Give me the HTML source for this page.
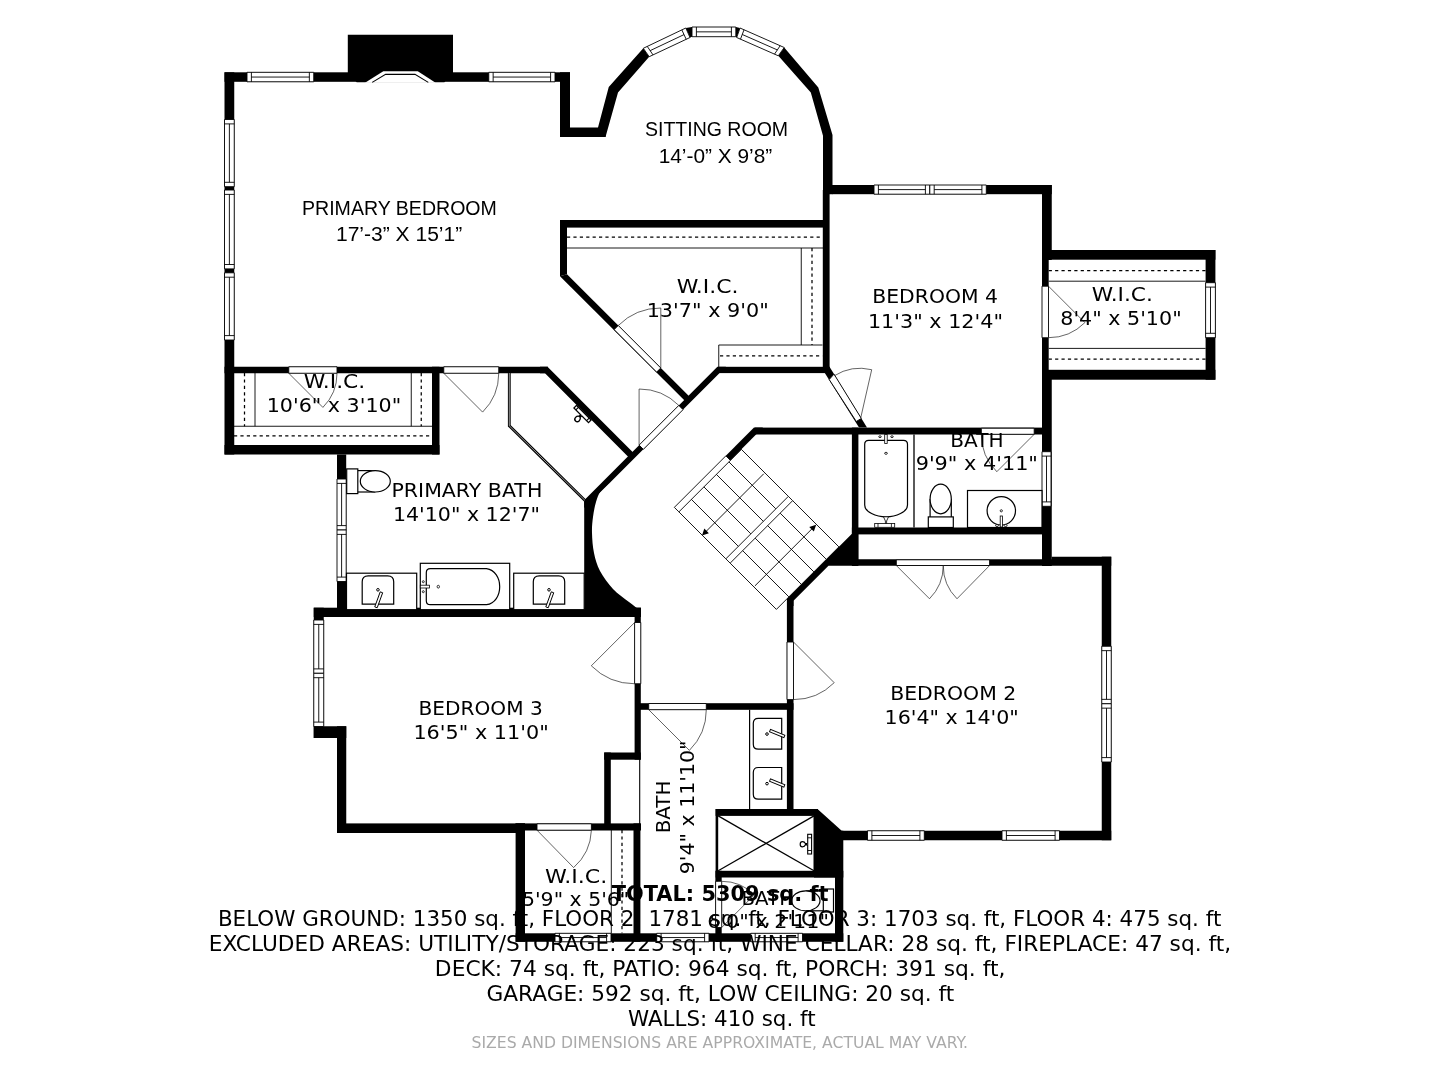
<!DOCTYPE html>
<html lang="en"><head><meta charset="utf-8"><title>Floor Plan</title>
<style>html,body{margin:0;padding:0;background:#fff}body{width:1440px;height:1080px;overflow:hidden}svg{display:block}</style>
</head><body>
<svg width="1440" height="1080" viewBox="0 0 1440 1080">
<rect width="1440" height="1080" fill="#fff"/>
<g id="plan">
<rect x="224.5" y="72.3" width="345.5" height="9.5" fill="#000"/>
<polygon points="347.8,34.8 453,34.8 453,72.3 444.4,82.2 356.7,82.2 347.8,72.3" fill="#000"/>
<polygon points="365,82.8 383.3,71.3 417.8,71.3 435.6,82.8" fill="#fff"/>
<polyline points="372.2,82.4 385.6,74.4 415,74.4 428.3,82.4" fill="none" stroke="#000" stroke-width="1.1"/>
<rect x="224.5" y="72.3" width="9.75" height="382.2" fill="#000"/>
<rect x="560" y="72.3" width="10" height="64.7" fill="#000"/>
<rect x="560" y="127.5" width="45.5" height="9.5" fill="#000"/>
<polygon points="598,127.5 608.75,87 643.3,48.3 649.2,56.7 618,92.5 605.5,137 598,137" fill="#000"/>
<polygon points="685.8,28 692,27 692,36.7 690,37.5" fill="#000"/>
<polygon points="735.8,27 740,28 736.7,37.5 735.8,36.7" fill="#000"/>
<polygon points="784.2,47.5 818.3,87.5 832.5,135 832.5,194.2 823,194.2 823,135.8 810.8,92.5 778.3,55.8" fill="#000"/>
<rect x="822.8" y="190" width="6.8" height="183" fill="#000"/>
<rect x="832" y="185" width="219.75" height="9.2" fill="#000"/>
<rect x="1042" y="185" width="9.75" height="75" fill="#000"/>
<rect x="1042" y="250" width="6.7" height="40" fill="#000"/>
<rect x="1042" y="337.7" width="6.7" height="42.3" fill="#000"/>
<rect x="1042" y="370" width="9.75" height="196" fill="#000"/>
<rect x="1042" y="250" width="173.4" height="9.7" fill="#000"/>
<rect x="1205.6" y="250" width="9.8" height="129.7" fill="#000"/>
<rect x="1042" y="369.8" width="173.4" height="9.9" fill="#000"/>
<rect x="560" y="220" width="263" height="7.6" fill="#000"/>
<polygon points="560,220 567,220 567,274.2 560,276.3" fill="#000"/>
<rect x="718.5" y="366.8" width="111" height="6.3" fill="#000"/>
<polygon points="560,276.3 567,274.2 690.4,397.6 686.1,401.9" fill="#000"/>
<polygon points="584.2,500.2 717.4,366.8 726,366.8 719.6,373.1 611.35,481.35 584.2,508" fill="#000"/>
<polygon points="547.5,366.7 633.35,452.65 628.65,457.35 545,373.2 540,373.2 540,366.7" fill="#000"/>
<path d="M584.2 500.2 L611.5 481.2 C608.8 483.75 603.38 487.53 600.8 491 C598.22 494.47 597.3 497.67 596 502 C594.7 506.33 593.67 511.83 593 517 C592.33 522.17 591.83 527 592 533 C592.17 539 592.67 546.67 594 553 C595.33 559.33 596.83 565 600 571 C603.17 577 608.17 583.83 613 589 C617.83 594.17 624.37 598.37 629 602 C633.63 605.63 637.63 608.47 640.8 610.8 L640.8 617 L584.2 617 Z" fill="#000" stroke="#000" stroke-width="0"/>
<rect x="224.5" y="366.75" width="323.5" height="6.5" fill="#000"/>
<rect x="432" y="366.75" width="7.5" height="87.75" fill="#000"/>
<rect x="224.5" y="445" width="215" height="9.5" fill="#000"/>
<rect x="337" y="454.5" width="9.2" height="162.5" fill="#000"/>
<rect x="313.75" y="607.7" width="327.25" height="9.3" fill="#000"/>
<rect x="313.75" y="607.7" width="10" height="130.3" fill="#000"/>
<rect x="313.75" y="726.25" width="32.5" height="11.75" fill="#000"/>
<rect x="337" y="726.25" width="9.25" height="106.75" fill="#000"/>
<rect x="337" y="823.4" width="188" height="9.6" fill="#000"/>
<rect x="515.5" y="823.4" width="125.5" height="7.1" fill="#000"/>
<rect x="634.6" y="607.7" width="6.2" height="152" fill="#000"/>
<rect x="604.2" y="752.5" width="36.6" height="7.2" fill="#000"/>
<rect x="604.2" y="752.5" width="6.6" height="77.5" fill="#000"/>
<line x1="639.7" y1="759" x2="639.7" y2="824" stroke="#000" stroke-width="1.1"/>
<rect x="515.6" y="823.4" width="9.4" height="118.4" fill="#000"/>
<rect x="633.5" y="823.4" width="6.9" height="118.4" fill="#000"/>
<rect x="515.6" y="933.3" width="327.7" height="8.5" fill="#000"/>
<rect x="640" y="703.2" width="153.5" height="6.6" fill="#000"/>
<rect x="786.9" y="600" width="6.6" height="209.5" fill="#000"/>
<polygon points="851.7,534 787,598.7 787,606 793.5,606 793.5,600.8 828.5,565.8 1111.25,565.8 1111.25,556.7 1051.7,556.7 1051.7,559.2 858.3,559.2 858.3,534" fill="#000"/>
<rect x="1101.75" y="556.7" width="9.5" height="283.55" fill="#000"/>
<rect x="835" y="830.75" width="276.25" height="9.5" fill="#000"/>
<rect x="755" y="427.6" width="296" height="6.9" fill="#000"/>
<polygon points="725.8,455.8 754,427.6 763,427.6 730,460.8" fill="#000"/>
<rect x="851.9" y="427.6" width="6.5" height="138.4" fill="#000"/>
<rect x="851.9" y="527.5" width="190.6" height="6.9" fill="#000"/>
<polygon points="829.5,366.8 867,427.6 859,427.6 824.8,373.1 824.8,366.8" fill="#000"/>
<rect x="715.6" y="809" width="102.4" height="6.9" fill="#000"/>
<rect x="715.6" y="809" width="2.6" height="132.8" fill="#000"/>
<rect x="715.6" y="870.8" width="127.7" height="6.7" fill="#000"/>
<rect x="715.6" y="870.8" width="6.1" height="10.5" fill="#000"/>
<rect x="715.6" y="927.5" width="6.1" height="14.3" fill="#000"/>
<polygon points="814,809 817.5,809 841.7,830.8 843.3,830.8 843.3,941.8 835,941.8 835,877.5 814,877.5" fill="#000"/>
<polygon points="247,72.3 247,81.8 313.75,81.8 313.75,72.3" fill="#fff" stroke="#000" stroke-width="0.9"/>
<line x1="251.4" y1="72.3" x2="251.4" y2="81.8" stroke="#000" stroke-width="0.9"/>
<line x1="309.35" y1="72.3" x2="309.35" y2="81.8" stroke="#000" stroke-width="0.9"/>
<line x1="251.4" y1="77.05" x2="309.35" y2="77.05" stroke="#000" stroke-width="0.9"/>
<polygon points="488.75,72.3 488.75,81.8 555,81.8 555,72.3" fill="#fff" stroke="#000" stroke-width="0.9"/>
<line x1="493.15" y1="72.3" x2="493.15" y2="81.8" stroke="#000" stroke-width="0.9"/>
<line x1="550.6" y1="72.3" x2="550.6" y2="81.8" stroke="#000" stroke-width="0.9"/>
<line x1="493.15" y1="77.05" x2="550.6" y2="77.05" stroke="#000" stroke-width="0.9"/>
<polygon points="224.5,119.5 234.25,119.5 234.25,186.7 224.5,186.7" fill="#fff" stroke="#000" stroke-width="0.9"/>
<line x1="224.5" y1="123.9" x2="234.25" y2="123.9" stroke="#000" stroke-width="0.9"/>
<line x1="224.5" y1="182.3" x2="234.25" y2="182.3" stroke="#000" stroke-width="0.9"/>
<line x1="229.38" y1="123.9" x2="229.38" y2="182.3" stroke="#000" stroke-width="0.9"/>
<polygon points="224.5,190 234.25,190 234.25,268.9 224.5,268.9" fill="#fff" stroke="#000" stroke-width="0.9"/>
<line x1="224.5" y1="194.4" x2="234.25" y2="194.4" stroke="#000" stroke-width="0.9"/>
<line x1="224.5" y1="264.5" x2="234.25" y2="264.5" stroke="#000" stroke-width="0.9"/>
<line x1="229.38" y1="194.4" x2="229.38" y2="264.5" stroke="#000" stroke-width="0.9"/>
<polygon points="224.5,272.8 234.25,272.8 234.25,340 224.5,340" fill="#fff" stroke="#000" stroke-width="0.9"/>
<line x1="224.5" y1="277.2" x2="234.25" y2="277.2" stroke="#000" stroke-width="0.9"/>
<line x1="224.5" y1="335.6" x2="234.25" y2="335.6" stroke="#000" stroke-width="0.9"/>
<line x1="229.38" y1="277.2" x2="229.38" y2="335.6" stroke="#000" stroke-width="0.9"/>
<polygon points="643.3,48.3 649.2,56.7 690,37.5 685.8,28" fill="#fff" stroke="#000" stroke-width="0.9"/>
<line x1="647.27" y1="46.4" x2="653.01" y2="54.91" stroke="#000" stroke-width="0.9"/>
<line x1="681.83" y1="29.9" x2="686.19" y2="39.29" stroke="#000" stroke-width="0.9"/>
<line x1="650.14" y1="50.65" x2="684.01" y2="34.6" stroke="#000" stroke-width="0.9"/>
<polygon points="692,27 692,36.7 735.8,36.7 735.8,27" fill="#fff" stroke="#000" stroke-width="0.9"/>
<line x1="696.4" y1="27" x2="696.4" y2="36.7" stroke="#000" stroke-width="0.9"/>
<line x1="731.4" y1="27" x2="731.4" y2="36.7" stroke="#000" stroke-width="0.9"/>
<line x1="696.4" y1="31.85" x2="731.4" y2="31.85" stroke="#000" stroke-width="0.9"/>
<polygon points="740,28 736.7,37.5 778.3,55.8 784.2,47.5" fill="#fff" stroke="#000" stroke-width="0.9"/>
<line x1="744.03" y1="29.78" x2="740.49" y2="39.17" stroke="#000" stroke-width="0.9"/>
<line x1="780.17" y1="45.72" x2="774.51" y2="54.13" stroke="#000" stroke-width="0.9"/>
<line x1="742.26" y1="34.47" x2="777.34" y2="49.93" stroke="#000" stroke-width="0.9"/>
<polygon points="874,185 874,194.2 929.8,194.2 929.8,185" fill="#fff" stroke="#000" stroke-width="0.9"/>
<line x1="878.4" y1="185" x2="878.4" y2="194.2" stroke="#000" stroke-width="0.9"/>
<line x1="925.4" y1="185" x2="925.4" y2="194.2" stroke="#000" stroke-width="0.9"/>
<line x1="878.4" y1="189.6" x2="925.4" y2="189.6" stroke="#000" stroke-width="0.9"/>
<polygon points="929.8,185 929.8,194.2 986.3,194.2 986.3,185" fill="#fff" stroke="#000" stroke-width="0.9"/>
<line x1="934.2" y1="185" x2="934.2" y2="194.2" stroke="#000" stroke-width="0.9"/>
<line x1="981.9" y1="185" x2="981.9" y2="194.2" stroke="#000" stroke-width="0.9"/>
<line x1="934.2" y1="189.6" x2="981.9" y2="189.6" stroke="#000" stroke-width="0.9"/>
<polygon points="1205.6,282.7 1215.4,282.7 1215.4,337.7 1205.6,337.7" fill="#fff" stroke="#000" stroke-width="0.9"/>
<line x1="1205.6" y1="287.1" x2="1215.4" y2="287.1" stroke="#000" stroke-width="0.9"/>
<line x1="1205.6" y1="333.3" x2="1215.4" y2="333.3" stroke="#000" stroke-width="0.9"/>
<line x1="1210.5" y1="287.1" x2="1210.5" y2="333.3" stroke="#000" stroke-width="0.9"/>
<polygon points="1042,451.7 1051,451.7 1051,506.3 1042,506.3" fill="#fff" stroke="#000" stroke-width="0.9"/>
<line x1="1042" y1="456.1" x2="1051" y2="456.1" stroke="#000" stroke-width="0.9"/>
<line x1="1042" y1="501.9" x2="1051" y2="501.9" stroke="#000" stroke-width="0.9"/>
<line x1="1046.5" y1="456.1" x2="1046.5" y2="501.9" stroke="#000" stroke-width="0.9"/>
<polygon points="337,479 346.2,479 346.2,530 337,530" fill="#fff" stroke="#000" stroke-width="0.9"/>
<line x1="337" y1="483.4" x2="346.2" y2="483.4" stroke="#000" stroke-width="0.9"/>
<line x1="337" y1="525.6" x2="346.2" y2="525.6" stroke="#000" stroke-width="0.9"/>
<line x1="341.6" y1="483.4" x2="341.6" y2="525.6" stroke="#000" stroke-width="0.9"/>
<polygon points="337,530 346.2,530 346.2,581.5 337,581.5" fill="#fff" stroke="#000" stroke-width="0.9"/>
<line x1="337" y1="534.4" x2="346.2" y2="534.4" stroke="#000" stroke-width="0.9"/>
<line x1="337" y1="577.1" x2="346.2" y2="577.1" stroke="#000" stroke-width="0.9"/>
<line x1="341.6" y1="534.4" x2="341.6" y2="577.1" stroke="#000" stroke-width="0.9"/>
<polygon points="313.75,620 323.75,620 323.75,673.3 313.75,673.3" fill="#fff" stroke="#000" stroke-width="0.9"/>
<line x1="313.75" y1="624.4" x2="323.75" y2="624.4" stroke="#000" stroke-width="0.9"/>
<line x1="313.75" y1="668.9" x2="323.75" y2="668.9" stroke="#000" stroke-width="0.9"/>
<line x1="318.75" y1="624.4" x2="318.75" y2="668.9" stroke="#000" stroke-width="0.9"/>
<polygon points="313.75,673.3 323.75,673.3 323.75,726.5 313.75,726.5" fill="#fff" stroke="#000" stroke-width="0.9"/>
<line x1="313.75" y1="677.7" x2="323.75" y2="677.7" stroke="#000" stroke-width="0.9"/>
<line x1="313.75" y1="722.1" x2="323.75" y2="722.1" stroke="#000" stroke-width="0.9"/>
<line x1="318.75" y1="677.7" x2="318.75" y2="722.1" stroke="#000" stroke-width="0.9"/>
<polygon points="1101.75,646.25 1111.25,646.25 1111.25,703.75 1101.75,703.75" fill="#fff" stroke="#000" stroke-width="0.9"/>
<line x1="1101.75" y1="650.65" x2="1111.25" y2="650.65" stroke="#000" stroke-width="0.9"/>
<line x1="1101.75" y1="699.35" x2="1111.25" y2="699.35" stroke="#000" stroke-width="0.9"/>
<line x1="1106.5" y1="650.65" x2="1106.5" y2="699.35" stroke="#000" stroke-width="0.9"/>
<polygon points="1101.75,703.75 1111.25,703.75 1111.25,762 1101.75,762" fill="#fff" stroke="#000" stroke-width="0.9"/>
<line x1="1101.75" y1="708.15" x2="1111.25" y2="708.15" stroke="#000" stroke-width="0.9"/>
<line x1="1101.75" y1="757.6" x2="1111.25" y2="757.6" stroke="#000" stroke-width="0.9"/>
<line x1="1106.5" y1="708.15" x2="1106.5" y2="757.6" stroke="#000" stroke-width="0.9"/>
<polygon points="867.5,830.75 867.5,840.25 924.3,840.25 924.3,830.75" fill="#fff" stroke="#000" stroke-width="0.9"/>
<line x1="871.9" y1="830.75" x2="871.9" y2="840.25" stroke="#000" stroke-width="0.9"/>
<line x1="919.9" y1="830.75" x2="919.9" y2="840.25" stroke="#000" stroke-width="0.9"/>
<line x1="871.9" y1="835.5" x2="919.9" y2="835.5" stroke="#000" stroke-width="0.9"/>
<polygon points="1002,830.75 1002,840.25 1059.5,840.25 1059.5,830.75" fill="#fff" stroke="#000" stroke-width="0.9"/>
<line x1="1006.4" y1="830.75" x2="1006.4" y2="840.25" stroke="#000" stroke-width="0.9"/>
<line x1="1055.1" y1="830.75" x2="1055.1" y2="840.25" stroke="#000" stroke-width="0.9"/>
<line x1="1006.4" y1="835.5" x2="1055.1" y2="835.5" stroke="#000" stroke-width="0.9"/>
<polygon points="555,933.3 555,941.8 611,941.8 611,933.3" fill="#fff" stroke="#000" stroke-width="0.9"/>
<line x1="559.4" y1="933.3" x2="559.4" y2="941.8" stroke="#000" stroke-width="0.9"/>
<line x1="606.6" y1="933.3" x2="606.6" y2="941.8" stroke="#000" stroke-width="0.9"/>
<line x1="559.4" y1="937.55" x2="606.6" y2="937.55" stroke="#000" stroke-width="0.9"/>
<polygon points="656.7,933.3 656.7,941.8 709,941.8 709,933.3" fill="#fff" stroke="#000" stroke-width="0.9"/>
<line x1="661.1" y1="933.3" x2="661.1" y2="941.8" stroke="#000" stroke-width="0.9"/>
<line x1="704.6" y1="933.3" x2="704.6" y2="941.8" stroke="#000" stroke-width="0.9"/>
<line x1="661.1" y1="937.55" x2="704.6" y2="937.55" stroke="#000" stroke-width="0.9"/>
<polygon points="750.8,933.3 750.8,941.8 802.5,941.8 802.5,933.3" fill="#fff" stroke="#000" stroke-width="0.9"/>
<line x1="755.2" y1="933.3" x2="755.2" y2="941.8" stroke="#000" stroke-width="0.9"/>
<line x1="798.1" y1="933.3" x2="798.1" y2="941.8" stroke="#000" stroke-width="0.9"/>
<line x1="755.2" y1="937.55" x2="798.1" y2="937.55" stroke="#000" stroke-width="0.9"/>
<polygon points="288.75,366.75 337,366.75 337,373.25 288.75,373.25" fill="#fff" stroke="#000" stroke-width="0.9"/>
<path d="M288.75 373.25L322.9 407.4A48.3 48.3 0 0 0 337 373.25" fill="none" stroke="#222" stroke-width="0.7"/>
<polygon points="443.75,366.75 498.75,366.75 498.75,373.25 443.75,373.25" fill="#fff" stroke="#000" stroke-width="0.9"/>
<path d="M443.75 373.25L482.6 412.1A54.94 54.94 0 0 0 498.75 373.25" fill="none" stroke="#222" stroke-width="0.7"/>
<polygon points="618.27,325.48 660.77,367.98 656.62,372.12 614.12,329.62" fill="#fff" stroke="#000" stroke-width="0.9"/>
<path d="M660.8 368L660.8 308A60 60 0 0 0 618.3 325.5" fill="none" stroke="#222" stroke-width="0.7"/>
<polygon points="639.1,445.1 678.8,405.4 683.05,409.65 643.35,449.35" fill="#fff" stroke="#000" stroke-width="0.9"/>
<path d="M639.1 445.1L639.1 389A56.1 56.1 0 0 1 678.8 405.4" fill="none" stroke="#222" stroke-width="0.7"/>
<polygon points="834,374.1 861.3,418.4 856.3,421.5 829.2,379.5" fill="#fff" stroke="#000" stroke-width="0.9"/>
<path d="M860.8 417.5L871.7 369.7A49.03 49.03 0 0 0 834.2 375.8" fill="none" stroke="#222" stroke-width="0.7"/>
<polygon points="1042,286.2 1048.5,286.2 1048.5,337.7 1042,337.7" fill="#fff" stroke="#000" stroke-width="0.9"/>
<path d="M1048.5 286.2L1084.9 322.6A51.48 51.48 0 0 1 1048.5 337.7" fill="none" stroke="#222" stroke-width="0.7"/>
<polygon points="981.3,428.2 1034.2,428.2 1034.2,434.3 981.3,434.3" fill="#fff" stroke="#000" stroke-width="0.9"/>
<path d="M1034.2 434.3L996.8 471.7A52.89 52.89 0 0 1 981.3 434.3" fill="none" stroke="#222" stroke-width="0.7"/>
<polygon points="896.3,559.8 989.6,559.8 989.6,565.5 896.3,565.5" fill="#fff" stroke="#000" stroke-width="0.9"/>
<path d="M989.6 565.5L957 598.75A46.57 46.57 0 0 1 943.25 565.5" fill="none" stroke="#222" stroke-width="0.7"/>
<path d="M896.3 565.5L929.5 598.75A46.99 46.99 0 0 0 943.25 565.5" fill="none" stroke="#222" stroke-width="0.7"/>
<polygon points="634.6,622.5 640.8,622.5 640.8,683.75 634.6,683.75" fill="#fff" stroke="#000" stroke-width="0.9"/>
<path d="M634.6 622.5L591.3 665.8A61.24 61.24 0 0 0 634.6 683.75" fill="none" stroke="#222" stroke-width="0.7"/>
<polygon points="648.7,703.5 706.3,703.5 706.3,709.7 648.7,709.7" fill="#fff" stroke="#000" stroke-width="0.9"/>
<path d="M648.7 709.7L689.4 750.4A57.56 57.56 0 0 0 706.3 709.7" fill="none" stroke="#222" stroke-width="0.7"/>
<polygon points="787,642 793.5,642 793.5,699.6 787,699.6" fill="#fff" stroke="#000" stroke-width="0.9"/>
<path d="M793.5 642L834.2 682.7A57.56 57.56 0 0 1 793.5 699.6" fill="none" stroke="#222" stroke-width="0.7"/>
<polygon points="537,823.8 591.4,823.8 591.4,830.2 537,830.2" fill="#fff" stroke="#000" stroke-width="0.9"/>
<path d="M537 830.2L573.6 867.6A52.33 52.33 0 0 0 591.4 830.2" fill="none" stroke="#222" stroke-width="0.7"/>
<polygon points="715.6,881.3 721.7,881.3 721.7,927.5 715.6,927.5" fill="#fff" stroke="#000" stroke-width="0.9"/>
<path d="M721.7 927.5L754.4 894.8A46.24 46.24 0 0 0 721.7 881.3" fill="none" stroke="#222" stroke-width="0.7"/>
<line x1="567" y1="237" x2="823" y2="237" stroke="#000" stroke-width="1.25" stroke-dasharray="3.2 3.2"/>
<line x1="567" y1="248" x2="823" y2="248" stroke="#000" stroke-width="0.9"/>
<line x1="801.25" y1="248" x2="801.25" y2="345" stroke="#000" stroke-width="0.9"/>
<line x1="812" y1="248" x2="812" y2="345" stroke="#000" stroke-width="1.25" stroke-dasharray="3.2 3.2"/>
<polyline points="718.75,367 718.75,345 822.5,345" fill="none" stroke="#000" stroke-width="0.9"/>
<line x1="720" y1="355.75" x2="822.5" y2="355.75" stroke="#000" stroke-width="1.25" stroke-dasharray="3.2 3.2"/>
<line x1="244.5" y1="373" x2="244.5" y2="426.25" stroke="#000" stroke-width="1.25" stroke-dasharray="3.2 3.2"/>
<line x1="255" y1="373" x2="255" y2="426.25" stroke="#000" stroke-width="0.9"/>
<line x1="411.25" y1="373" x2="411.25" y2="426.25" stroke="#000" stroke-width="0.9"/>
<line x1="421.25" y1="373" x2="421.25" y2="426.25" stroke="#000" stroke-width="1.25" stroke-dasharray="3.2 3.2"/>
<line x1="234" y1="426.25" x2="432" y2="426.25" stroke="#000" stroke-width="0.9"/>
<line x1="234" y1="435.75" x2="432" y2="435.75" stroke="#000" stroke-width="1.25" stroke-dasharray="3.2 3.2"/>
<line x1="1048.7" y1="270.5" x2="1205.6" y2="270.5" stroke="#000" stroke-width="1.25" stroke-dasharray="3.2 3.2"/>
<line x1="1048.7" y1="281.2" x2="1205.6" y2="281.2" stroke="#000" stroke-width="0.9"/>
<line x1="1048.7" y1="348.4" x2="1205.6" y2="348.4" stroke="#000" stroke-width="0.9"/>
<line x1="1048.7" y1="359.1" x2="1205.6" y2="359.1" stroke="#000" stroke-width="1.25" stroke-dasharray="3.2 3.2"/>
<line x1="611.3" y1="830" x2="611.3" y2="933.3" stroke="#000" stroke-width="0.9"/>
<line x1="622" y1="830" x2="622" y2="933.3" stroke="#000" stroke-width="1.25" stroke-dasharray="3.2 3.2"/>
<polygon points="725.85,455.85 730.4,460.4 678.9,511.9 674.35,507.35" fill="#fff" stroke="#000" stroke-width="0.9"/>
<polygon points="788.35,496.35 792.65,500.65 730.15,563.15 725.85,558.85" fill="#fff" stroke="#000" stroke-width="0.9"/>
<line x1="741.4" y1="449.4" x2="788.35" y2="496.35" stroke="#000" stroke-width="0.9"/>
<line x1="792.65" y1="500.65" x2="838.9" y2="546.9" stroke="#000" stroke-width="0.9"/>
<line x1="728.9" y1="461.9" x2="775.85" y2="508.85" stroke="#000" stroke-width="0.9"/>
<line x1="780.15" y1="513.15" x2="826.4" y2="559.4" stroke="#000" stroke-width="0.9"/>
<line x1="716.4" y1="474.4" x2="763.35" y2="521.35" stroke="#000" stroke-width="0.9"/>
<line x1="767.65" y1="525.65" x2="813.9" y2="571.9" stroke="#000" stroke-width="0.9"/>
<line x1="703.9" y1="486.9" x2="750.85" y2="533.85" stroke="#000" stroke-width="0.9"/>
<line x1="755.15" y1="538.15" x2="801.4" y2="584.4" stroke="#000" stroke-width="0.9"/>
<line x1="691.4" y1="499.4" x2="738.35" y2="546.35" stroke="#000" stroke-width="0.9"/>
<line x1="742.65" y1="550.65" x2="788.9" y2="596.9" stroke="#000" stroke-width="0.9"/>
<line x1="678.9" y1="511.9" x2="725.85" y2="558.85" stroke="#000" stroke-width="0.9"/>
<line x1="730.15" y1="563.15" x2="776.4" y2="609.4" stroke="#000" stroke-width="0.9"/>
<line x1="838.9" y1="546.9" x2="776.4" y2="609.4" stroke="#000" stroke-width="0.9"/>
<line x1="741.4" y1="449.4" x2="730.4" y2="460.4" stroke="#000" stroke-width="0.9"/>
<line x1="763.75" y1="473.75" x2="704.25" y2="533.25" stroke="#000" stroke-width="0.9"/>
<line x1="754.9" y1="585.9" x2="814.4" y2="526.4" stroke="#000" stroke-width="0.9"/>
<polygon points="702,535.5 704.3,528.6 708.9,533.2" fill="#000"/>
<polygon points="816.15,524.65 809.25,526.95 813.85,531.55" fill="#000"/>
<line x1="914" y1="434.5" x2="914" y2="527.5" stroke="#000" stroke-width="1.3"/>
<line x1="749.6" y1="709.7" x2="749.6" y2="809" stroke="#000" stroke-width="1.2"/>
<polyline points="509.3,373 509.3,425.8 585,500.4" fill="none" stroke="#000" stroke-width="2.8"/>
<polyline points="509.3,373 509.3,425.8 585,500.4" fill="none" stroke="#fff" stroke-width="0.6"/>
<line x1="718.2" y1="815.9" x2="814" y2="870.8" stroke="#000" stroke-width="1.3"/>
<line x1="718.2" y1="870.8" x2="814" y2="815.9" stroke="#000" stroke-width="1.3"/>
<line x1="814" y1="815.9" x2="814" y2="870.8" stroke="#000" stroke-width="1"/>
<rect x="807.7" y="834.3" width="3.9" height="19.7" fill="#fff" stroke="#000" stroke-width="1.1"/>
<line x1="807.7" y1="837.8" x2="811.6" y2="837.8" stroke="#000" stroke-width="0.9"/>
<line x1="807.7" y1="850.5" x2="811.6" y2="850.5" stroke="#000" stroke-width="0.9"/>
<path d="M807.7 843.6 L805.4 843.6 C804.4 841 800.2 840.6 800.2 844.2 C800.2 847.8 804.4 847.4 805.4 844.8 L807.7 844.8" fill="#fff" stroke="#000" stroke-width="1.2"/>
<g transform="translate(582.5,414) rotate(45)" fill="#fff" stroke="#000"><rect x="-10.3" y="-1.8" width="20.6" height="3.6" stroke-width="1.3"/><path d="M-7.6 -1.8V1.8M7.6 -1.8V1.8" stroke-width="1.1"/><path d="M-0.7 1.8 L-0.7 4 C-3 5 -3.4 9.8 0 9.8 C3.4 9.8 3 5 0.7 4 L0.7 1.8" stroke-width="1.4"/></g>
<line x1="357.8" y1="470.6" x2="375.3" y2="470.6" stroke="#000" stroke-width="1.2"/>
<line x1="357.8" y1="492" x2="375.3" y2="492" stroke="#000" stroke-width="1.2"/>
<ellipse cx="375.3" cy="481.3" rx="15" ry="10.7" fill="#fff" stroke="#000" stroke-width="1.2"/>
<rect x="346.7" y="468.9" width="11.1" height="24.7" fill="#fff" stroke="#000" stroke-width="1.2"/>
<line x1="930.1" y1="516.9" x2="930.1" y2="499" stroke="#000" stroke-width="1.2"/>
<line x1="951.3" y1="516.9" x2="951.3" y2="499" stroke="#000" stroke-width="1.2"/>
<ellipse cx="940.7" cy="499" rx="10.6" ry="14.8" fill="#fff" stroke="#000" stroke-width="1.2"/>
<rect x="928.3" y="516.9" width="25" height="10.6" fill="#fff" stroke="#000" stroke-width="1.2"/>
<line x1="823.3" y1="890.8" x2="805.8" y2="890.8" stroke="#000" stroke-width="1.2"/>
<line x1="823.3" y1="910.8" x2="805.8" y2="910.8" stroke="#000" stroke-width="1.2"/>
<ellipse cx="805.8" cy="900.8" rx="14.2" ry="10" fill="#fff" stroke="#000" stroke-width="1.2"/>
<rect x="823.3" y="889" width="10.2" height="23" fill="#fff" stroke="#000" stroke-width="1.2"/>
<rect x="346.5" y="573.2" width="70.2" height="36.5" fill="#fff" stroke="#000" stroke-width="1.2"/>
<rect x="513.7" y="573.2" width="70.5" height="36.5" fill="#fff" stroke="#000" stroke-width="1.2"/>
<rect x="420.3" y="563.3" width="89.4" height="46.4" fill="#fff" stroke="#000" stroke-width="1.2"/>
<path d="M362.2 604.2 L362.2 581.8 Q362.2 575.8 368.2 575.8 L387.7 575.8 Q393.7 575.8 393.7 581.8 L393.7 604.2 Z" fill="#fff" stroke="#000" stroke-width="1.2"/>
<ellipse cx="377.95" cy="589.8" rx="1.3" ry="1.3" fill="#fff" stroke="#000" stroke-width="1"/>
<g transform="translate(381.45,592.3) rotate(20)"><rect x="-1.3" y="0" width="2.6" height="16" fill="#fff" stroke="#000" stroke-width="0.9"/></g>
<path d="M533.3 604.2 L533.3 581.8 Q533.3 575.8 539.3 575.8 L558.7 575.8 Q564.7 575.8 564.7 581.8 L564.7 604.2 Z" fill="#fff" stroke="#000" stroke-width="1.2"/>
<ellipse cx="549" cy="589.8" rx="1.3" ry="1.3" fill="#fff" stroke="#000" stroke-width="1"/>
<g transform="translate(552.5,592.3) rotate(20)"><rect x="-1.3" y="0" width="2.6" height="16" fill="#fff" stroke="#000" stroke-width="0.9"/></g>
<path d="M430.3 568.7 L486.5 568.7 C495 570 499.7 578 499.7 586.7 C499.7 595.5 495 603.5 486.5 604.7 L430.3 604.7 Q426.3 604.7 426.3 600.7 L426.3 572.7 Q426.3 568.7 430.3 568.7 Z" fill="#fff" stroke="#000" stroke-width="1.2"/>
<rect x="420.3" y="585.2" width="9.2" height="2.8" fill="#fff" stroke="#000" stroke-width="0.8"/>
<ellipse cx="423.3" cy="581.7" rx="1" ry="1" fill="#fff" stroke="#000" stroke-width="0.8"/>
<ellipse cx="423.3" cy="591.7" rx="1" ry="1" fill="#fff" stroke="#000" stroke-width="0.8"/>
<ellipse cx="438.3" cy="586.7" rx="1.2" ry="1.4" fill="#fff" stroke="#000" stroke-width="0.8"/>
<path d="M868.7 440.3 L903.5 440.3 Q907.5 440.3 907.5 444.3 L907.5 505 C907.5 512 896 516.8 886.1 516.8 C876 516.8 864.7 512 864.7 505 L864.7 444.3 Q864.7 440.3 868.7 440.3 Z" fill="#fff" stroke="#000" stroke-width="1.2"/>
<rect x="884.7" y="434.5" width="2.5" height="9" fill="#fff" stroke="#000" stroke-width="0.8"/>
<ellipse cx="880" cy="436.7" rx="1.3" ry="0.9" fill="#fff" stroke="#000" stroke-width="0.8"/>
<ellipse cx="892" cy="436.7" rx="1.3" ry="0.9" fill="#fff" stroke="#000" stroke-width="0.8"/>
<ellipse cx="886" cy="453.3" rx="1.4" ry="1" fill="#fff" stroke="#000" stroke-width="0.8"/>
<path d="M883.5 516.8 L888.5 516.8 L886.6 521 L886.6 525 L885.4 525 L885.4 521 Z" fill="#fff" stroke="#000" stroke-width="0.8"/>
<rect x="874.7" y="523.5" width="20" height="3.8" fill="#fff" stroke="#000" stroke-width="0.8"/>
<line x1="878" y1="523.5" x2="878" y2="527.3" stroke="#000" stroke-width="0.8"/>
<line x1="891.4" y1="523.5" x2="891.4" y2="527.3" stroke="#000" stroke-width="0.8"/>
<rect x="967.5" y="490.5" width="74.5" height="37" fill="#fff" stroke="#000" stroke-width="1.2"/>
<ellipse cx="1001.3" cy="510.8" rx="14.2" ry="14.2" fill="#fff" stroke="#000" stroke-width="1.2"/>
<ellipse cx="1001.3" cy="510.8" rx="1.1" ry="1.1" fill="#fff" stroke="#000" stroke-width="0.8"/>
<rect x="1000.2" y="516" width="2.2" height="11" fill="#fff" stroke="#000" stroke-width="0.8"/>
<ellipse cx="997" cy="525.5" rx="1.5" ry="1" fill="#fff" stroke="#000" stroke-width="0.8"/>
<ellipse cx="1005.6" cy="525.5" rx="1.5" ry="1" fill="#fff" stroke="#000" stroke-width="0.8"/>
<path d="M781.7 718.3 L758.3 718.3 Q753.3 718.3 753.3 723.3 L753.3 744.2 Q753.3 749.2 758.3 749.2 L781.7 749.2 Z" fill="#fff" stroke="#000" stroke-width="1.2"/>
<ellipse cx="767" cy="734.05" rx="1.3" ry="1.3" fill="#fff" stroke="#000" stroke-width="1"/>
<g transform="translate(770,730.55) rotate(-68)"><rect x="-1.3" y="0" width="2.6" height="15.5" fill="#fff" stroke="#000" stroke-width="0.9"/></g>
<path d="M781.7 767.5 L758.3 767.5 Q753.3 767.5 753.3 772.5 L753.3 794.2 Q753.3 799.2 758.3 799.2 L781.7 799.2 Z" fill="#fff" stroke="#000" stroke-width="1.2"/>
<ellipse cx="767" cy="783.65" rx="1.3" ry="1.3" fill="#fff" stroke="#000" stroke-width="1"/>
<g transform="translate(770,780.15) rotate(-68)"><rect x="-1.3" y="0" width="2.6" height="15.5" fill="#fff" stroke="#000" stroke-width="0.9"/></g>
</g>
<g id="labels" style="filter:grayscale(1)">
<text x="302.04" y="215" font-size="20.3" font-family="Liberation Sans, Arial, sans-serif" fill="#000" textLength="194.82" lengthAdjust="spacingAndGlyphs">PRIMARY BEDROOM</text>
<text x="335.96" y="241" font-size="20.3" font-family="Liberation Sans, Arial, sans-serif" fill="#000" textLength="126.28" lengthAdjust="spacingAndGlyphs">17’-3” X 15’1”</text>
<text x="645" y="136.3" font-size="20.3" font-family="Liberation Sans, Arial, sans-serif" fill="#000" textLength="143.06" lengthAdjust="spacingAndGlyphs">SITTING ROOM</text>
<text x="658.67" y="162.5" font-size="20.3" font-family="Liberation Sans, Arial, sans-serif" fill="#000" textLength="113.58" lengthAdjust="spacingAndGlyphs">14’-0” X 9’8”</text>
<text x="676.7" y="293" font-size="20" font-family="DejaVu Sans, Verdana, sans-serif" fill="#000" textLength="61.79" lengthAdjust="spacingAndGlyphs">W.I.C.</text>
<text x="646.67" y="317" font-size="20" font-family="DejaVu Sans, Verdana, sans-serif" fill="#000" textLength="122.07" lengthAdjust="spacingAndGlyphs">13'7&quot; x 9'0&quot;</text>
<text x="872.28" y="303.3" font-size="20" font-family="DejaVu Sans, Verdana, sans-serif" fill="#000" textLength="125.66" lengthAdjust="spacingAndGlyphs">BEDROOM 4</text>
<text x="867.93" y="327.5" font-size="20" font-family="DejaVu Sans, Verdana, sans-serif" fill="#000" textLength="135.02" lengthAdjust="spacingAndGlyphs">11'3&quot; x 12'4&quot;</text>
<text x="1091.8" y="301" font-size="20" font-family="DejaVu Sans, Verdana, sans-serif" fill="#000" textLength="61.07" lengthAdjust="spacingAndGlyphs">W.I.C.</text>
<text x="1060.27" y="324.7" font-size="20" font-family="DejaVu Sans, Verdana, sans-serif" fill="#000" textLength="121.37" lengthAdjust="spacingAndGlyphs">8'4&quot; x 5'10&quot;</text>
<text x="303.75" y="388" font-size="20" font-family="DejaVu Sans, Verdana, sans-serif" fill="#000" textLength="61.48" lengthAdjust="spacingAndGlyphs">W.I.C.</text>
<text x="266.68" y="412" font-size="20" font-family="DejaVu Sans, Verdana, sans-serif" fill="#000" textLength="134.55" lengthAdjust="spacingAndGlyphs">10'6&quot; x 3'10&quot;</text>
<text x="391.47" y="497" font-size="20" font-family="DejaVu Sans, Verdana, sans-serif" fill="#000" textLength="150.84" lengthAdjust="spacingAndGlyphs">PRIMARY BATH</text>
<text x="392.94" y="520.5" font-size="20" font-family="DejaVu Sans, Verdana, sans-serif" fill="#000" textLength="147.04" lengthAdjust="spacingAndGlyphs">14'10&quot; x 12'7&quot;</text>
<text x="950.3" y="447" font-size="20" font-family="DejaVu Sans, Verdana, sans-serif" fill="#000" textLength="53.24" lengthAdjust="spacingAndGlyphs">BATH</text>
<text x="915.66" y="470.3" font-size="20" font-family="DejaVu Sans, Verdana, sans-serif" fill="#000" textLength="122.29" lengthAdjust="spacingAndGlyphs">9'9&quot; x 4'11&quot;</text>
<text x="418.49" y="715" font-size="20" font-family="DejaVu Sans, Verdana, sans-serif" fill="#000" textLength="124.24" lengthAdjust="spacingAndGlyphs">BEDROOM 3</text>
<text x="413.42" y="738.75" font-size="20" font-family="DejaVu Sans, Verdana, sans-serif" fill="#000" textLength="135.32" lengthAdjust="spacingAndGlyphs">16'5&quot; x 11'0&quot;</text>
<text x="890.18" y="699.5" font-size="20" font-family="DejaVu Sans, Verdana, sans-serif" fill="#000" textLength="126.08" lengthAdjust="spacingAndGlyphs">BEDROOM 2</text>
<text x="884.64" y="723.75" font-size="20" font-family="DejaVu Sans, Verdana, sans-serif" fill="#000" textLength="134.09" lengthAdjust="spacingAndGlyphs">16'4&quot; x 14'0&quot;</text>
<text x="545" y="882.5" font-size="20" font-family="DejaVu Sans, Verdana, sans-serif" fill="#000" textLength="62.3" lengthAdjust="spacingAndGlyphs">W.I.C.</text>
<text x="521.98" y="905.8" font-size="20" font-family="DejaVu Sans, Verdana, sans-serif" fill="#000" textLength="107.25" lengthAdjust="spacingAndGlyphs">5'9&quot; x 5'6&quot;</text>
<text x="741.51" y="905" font-size="20" font-family="DejaVu Sans, Verdana, sans-serif" fill="#000" textLength="52.52" lengthAdjust="spacingAndGlyphs">BATH</text>
<text x="707.27" y="928" font-size="20" font-family="DejaVu Sans, Verdana, sans-serif" fill="#000" textLength="121.68" lengthAdjust="spacingAndGlyphs">6'0&quot; x 2'11&quot;</text>
<text x="-26.29" y="0" font-size="20" font-family="DejaVu Sans, Verdana, sans-serif" fill="#000" textLength="52.62" lengthAdjust="spacingAndGlyphs" transform="translate(670,807) rotate(-90)">BATH</text>
<text x="-66.83" y="0" font-size="20" font-family="DejaVu Sans, Verdana, sans-serif" fill="#000" textLength="133.86" lengthAdjust="spacingAndGlyphs" transform="translate(694,807.5) rotate(-90)">9'4&quot; x 11'10&quot;</text>
<text x="611.7" y="900.8" font-size="20.6" font-family="DejaVu Sans, Verdana, sans-serif" fill="#000" textLength="216.89" lengthAdjust="spacingAndGlyphs" font-weight="bold">TOTAL: 5309 sq. ft</text>
<text x="217.92" y="925.5" font-size="20.6" font-family="DejaVu Sans, Verdana, sans-serif" fill="#000" textLength="1003.41" lengthAdjust="spacingAndGlyphs">BELOW GROUND: 1350 sq. ft, FLOOR 2: 1781 sq. ft, FLOOR 3: 1703 sq. ft, FLOOR 4: 475 sq. ft</text>
<text x="208.89" y="950.5" font-size="20.6" font-family="DejaVu Sans, Verdana, sans-serif" fill="#000" textLength="1022.23" lengthAdjust="spacingAndGlyphs">EXCLUDED AREAS: UTILITY/STORAGE: 223 sq. ft, WINE CELLAR: 28 sq. ft, FIREPLACE: 47 sq. ft,</text>
<text x="434.89" y="975.75" font-size="20.6" font-family="DejaVu Sans, Verdana, sans-serif" fill="#000" textLength="570.5" lengthAdjust="spacingAndGlyphs">DECK: 74 sq. ft, PATIO: 964 sq. ft, PORCH: 391 sq. ft,</text>
<text x="486.45" y="1000.5" font-size="20.6" font-family="DejaVu Sans, Verdana, sans-serif" fill="#000" textLength="467.88" lengthAdjust="spacingAndGlyphs">GARAGE: 592 sq. ft, LOW CEILING: 20 sq. ft</text>
<text x="628" y="1025.5" font-size="20.6" font-family="DejaVu Sans, Verdana, sans-serif" fill="#000" textLength="187.58" lengthAdjust="spacingAndGlyphs">WALLS: 410 sq. ft</text>
<text x="471.49" y="1047.5" font-size="15.5" font-family="DejaVu Sans, Verdana, sans-serif" fill="#aaa" textLength="496.44" lengthAdjust="spacingAndGlyphs">SIZES AND DIMENSIONS ARE APPROXIMATE, ACTUAL MAY VARY.</text>
</g>
</svg>
</body></html>
